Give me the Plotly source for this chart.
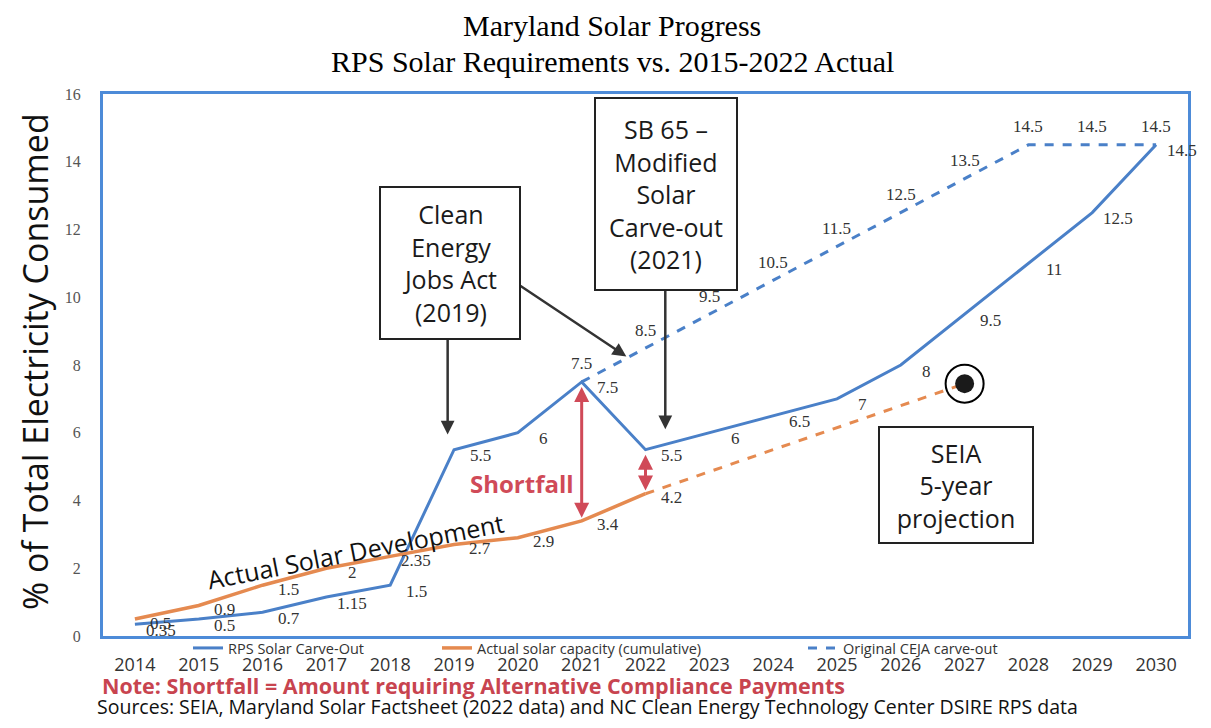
import plotly.graph_objects as go

# ---------------- data ----------------
years = [2014, 2015, 2016, 2017, 2018, 2019, 2020, 2021, 2022, 2023, 2024, 2025, 2026, 2027, 2028, 2029, 2030]
year_labels = [str(y) for y in years]

rps_values = [0.35, 0.5, 0.7, 1.15, 1.5, 5.5, 6, 7.5, 5.5, 6, 6.5, 7, 8, 9.5, 11, 12.5, 14.5]

actual_years = [2014, 2015, 2016, 2017, 2018, 2019, 2020, 2021, 2022]
actual_values = [0.5, 0.9, 1.5, 2, 2.35, 2.7, 2.9, 3.4, 4.2]

projection_years = [2022, 2027]
projection_values = [4.2, 7.45]

ceja_years = [2021, 2022, 2023, 2024, 2025, 2026, 2027, 2028, 2029, 2030]
ceja_values = [7.5, 8.5, 9.5, 10.5, 11.5, 12.5, 13.5, 14.5, 14.5, 14.5]

y_ticks = [0, 2, 4, 6, 8, 10, 12, 14, 16]

# ---------------- styles ----------------
BLUE = "#4a80c8"
ORANGE = "#e58a50"
FRAME = "#4d8bd8"
RED = "#d04a58"
NOTE_RED = "#c8444f"
SANS = "Open Sans"
SERIF = "Liberation Serif"

# page body adds an 8px margin; plot area target (page px): left 103, top 94, right 1188, bottom 636
PL, PT, PR, PB = 103, 94, 1188, 636
PW, PH = PR - PL, PB - PT


def px(xp):
    return (xp - PL) / PW


def py(yp):
    return (PB - yp) / PH


fig = go.Figure()

fig.add_trace(go.Scatter(x=years, y=rps_values, mode="lines", name="RPS Solar Carve-Out",
                         line=dict(color=BLUE, width=3), legend="legend"))
fig.add_trace(go.Scatter(x=actual_years, y=actual_values, mode="lines",
                         name="Actual solar capacity (cumulative)",
                         line=dict(color=ORANGE, width=3.5), legend="legend2"))
fig.add_trace(go.Scatter(x=projection_years, y=projection_values, mode="lines",
                         line=dict(color=ORANGE, width=3, dash="dash"), showlegend=False))
fig.add_trace(go.Scatter(x=ceja_years, y=ceja_values, mode="lines", name="Original CEJA carve-out",
                         line=dict(color=BLUE, width=3, dash="dash"), legend="legend3"))
# SEIA projection end-point marker
fig.add_trace(go.Scatter(x=projection_years[-1:], y=projection_values[-1:], mode="markers",
                         marker=dict(size=38, color="rgba(0,0,0,0)", line=dict(color="black", width=2)),
                         showlegend=False))
fig.add_trace(go.Scatter(x=projection_years[-1:], y=projection_values[-1:], mode="markers",
                         marker=dict(size=19, color="#1a1a1a"), showlegend=False))

annotations = []
label_font = dict(family=SERIF, size=17, color="#333333")


def fmt(v):
    return "%g" % v


# RPS labels: right/below of the points
for x, v in zip(years, rps_values):
    annotations.append(dict(x=x, y=v, text=fmt(v), showarrow=False, xshift=26, yshift=-6,
                            font=label_font))
# Actual labels
for x, v in zip(actual_years, actual_values):
    annotations.append(dict(x=x, y=v, text=fmt(v), showarrow=False, xshift=26, yshift=-4,
                            font=label_font))
# CEJA labels: above the points
for x, v in zip(ceja_years, ceja_values):
    annotations.append(dict(x=x, y=v, text=fmt(v), showarrow=False, xshift=0, yshift=18,
                            font=label_font))

# Shortfall double arrows (2021 and 2022)
for yr in (2021, 2022):
    top = rps_values[years.index(yr)]
    bot = actual_values[actual_years.index(yr)]
    annotations.append(dict(x=yr, y=top - 0.15, ax=yr, ay=bot + 0.05, axref="x", ayref="y",
                            xref="x", yref="y", showarrow=True, arrowhead=2, arrowside="end+start",
                            arrowsize=1.0, arrowwidth=3, arrowcolor=RED, text=""))

# Black pointer arrows
annotations.append(dict(x=2018.9, y=5.95, ax=0, ay=-96, showarrow=True, arrowhead=2,
                        arrowsize=1.1, arrowwidth=2.5, arrowcolor="#333333", text=""))
annotations.append(dict(x=2021.7, y=8.25, ax=-108, ay=-72, showarrow=True, arrowhead=2,
                        arrowsize=1.1, arrowwidth=2.5, arrowcolor="#333333", text=""))
annotations.append(dict(x=2022.31, y=6.1, ax=0, ay=-140, showarrow=True, arrowhead=2,
                        arrowsize=1.1, arrowwidth=2.5, arrowcolor="#333333", text=""))

box_font = dict(family=SANS, size=25, color="#1a1a1a")
box_common = dict(xref="paper", yref="paper", xanchor="center", yanchor="middle", showarrow=False,
                  font=box_font, bgcolor="white", bordercolor="#222222", borderwidth=2, align="center")
annotations.append(dict(box_common, x=px(450), y=py(263), text="Clean<br>Energy<br>Jobs Act<br>(2019)",
                        width=136, height=148))
annotations.append(dict(box_common, x=px(666), y=py(194),
                        text="SB 65 \u2013<br>Modified<br>Solar<br>Carve-out<br>(2021)",
                        width=138, height=188))
annotations.append(dict(box_common, x=px(956), y=py(485), text="SEIA<br>5-year<br>projection",
                        width=150, height=112))

# Free text
annotations.append(dict(x=2020.07, y=4.5, text="<b>Shortfall</b>", showarrow=False,
                        font=dict(family=SANS, size=24, color=RED)))
annotations.append(dict(x=2017.45, y=2.5, text="Actual Solar Development", showarrow=False,
                        textangle=-11, font=dict(family=SANS, size=25, color="#111111")))

# Titles & axis title
txt_common = dict(xref="paper", yref="paper", xanchor="center", yanchor="middle", showarrow=False)
annotations.append(dict(txt_common, x=px(612), y=py(26), text="Maryland Solar Progress",
                        font=dict(family=SERIF, size=30, color="black")))
annotations.append(dict(txt_common, x=px(612), y=py(61), text="RPS Solar Requirements vs. 2015-2022 Actual",
                        font=dict(family=SERIF, size=30, color="black")))
annotations.append(dict(txt_common, x=px(35), y=py(362), text="% of Total Electricity Consumed",
                        textangle=-90, font=dict(family=SANS, size=34, color="#111111")))
annotations.append(dict(txt_common, x=px(100), y=py(685), xanchor="left",
                        text="<b>Note: Shortfall = Amount requiring Alternative Compliance Payments</b>",
                        font=dict(family=SANS, size=21.5, color=NOTE_RED)))
annotations.append(dict(txt_common, x=px(95), y=py(706), xanchor="left",
                        text="Sources: SEIA, Maryland Solar Factsheet (2022 data) and NC Clean Energy Technology Center DSIRE RPS data",
                        font=dict(family=SANS, size=19.5, color="#111111")))

legend_common = dict(orientation="h", yanchor="middle", y=py(648), xanchor="left",
                     bgcolor="rgba(0,0,0,0)", font=dict(family=SANS, size=14.5, color="#333333"),
                     itemwidth=30, tracegroupgap=0)

fig.update_layout(
    width=1195, height=712,
    margin=dict(l=PL - 8, r=1195 - (PR - 8), t=PT - 8, b=712 - (PB - 8)),
    paper_bgcolor="white", plot_bgcolor="white",
    showlegend=True,
    legend=dict(legend_common, x=px(188)),
    legend2=dict(legend_common, x=px(437)),
    legend3=dict(legend_common, x=px(803)),
    xaxis=dict(range=[2013.5, 2030.5], tickvals=years, ticktext=year_labels, showgrid=False,
               zeroline=False, showline=True, linecolor=FRAME, linewidth=3, mirror=True,
               ticks="", ticklabelstandoff=10,
               tickfont=dict(family=SANS, size=18, color="#333333")),
    yaxis=dict(range=[0, 16], tickvals=y_ticks, showgrid=False, zeroline=False,
               showline=True, linecolor=FRAME, linewidth=3, mirror=True, ticks="",
               ticklabelstandoff=16,
               tickfont=dict(family=SERIF, size=16, color="#555555")),
    annotations=annotations,
)

fig.write_html("out.html")
